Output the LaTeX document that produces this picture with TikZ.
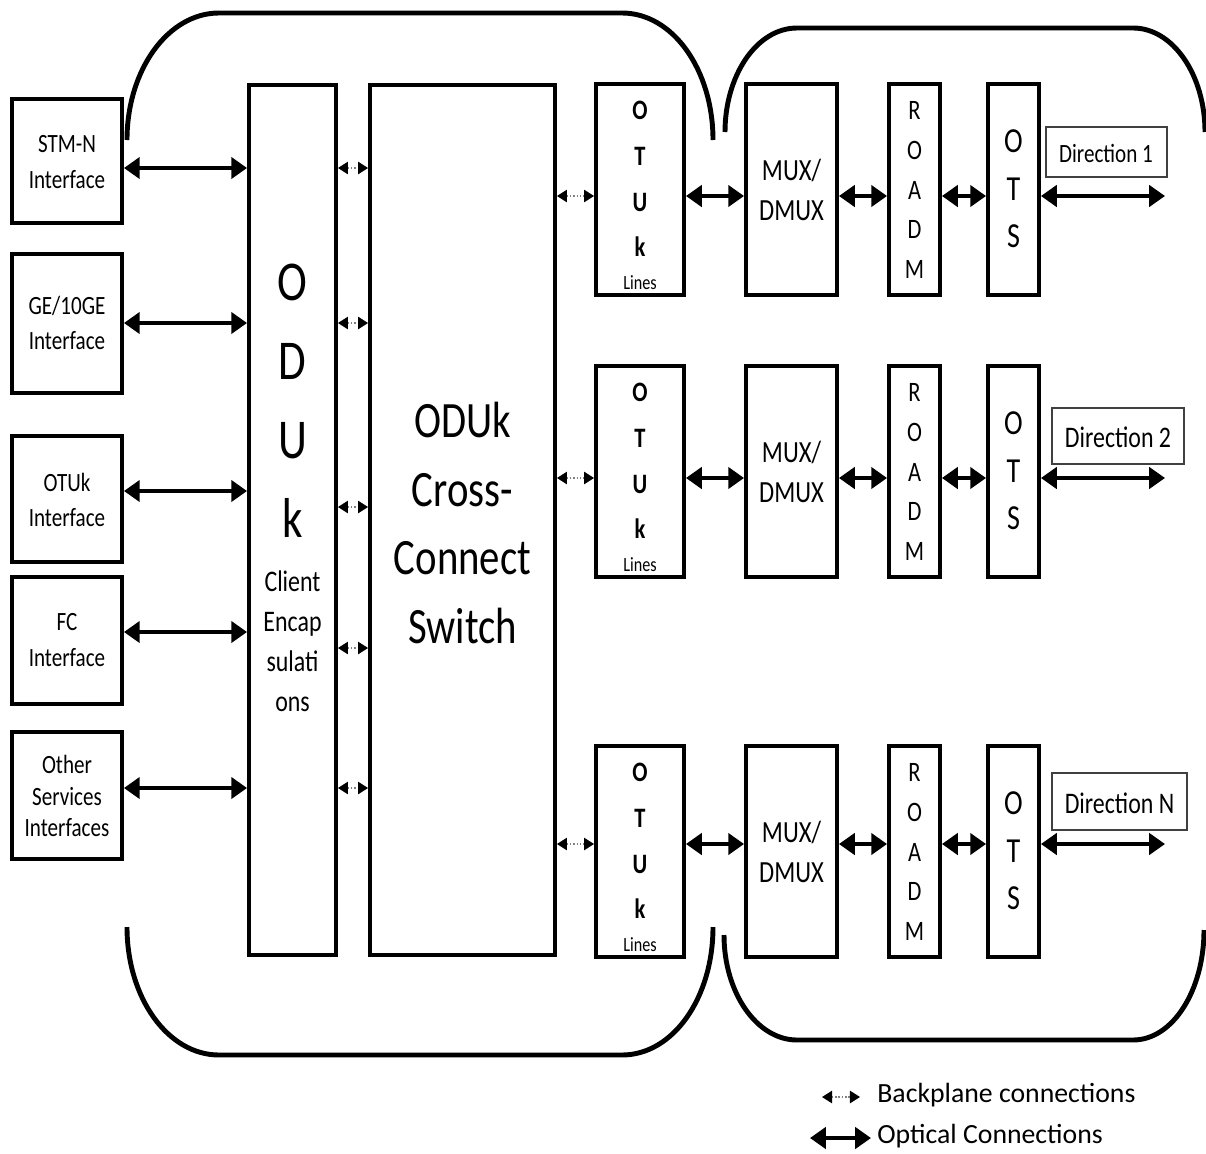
\documentclass[tikz,border=0pt]{standalone}
\usepackage{fontspec}
\setmainfont{Carlito}[FakeStretch=0.8]
\newfontfamily\legendfont{Carlito}
\usetikzlibrary{arrows.meta,fit}
\tikzset{
  box/.style={draw, line width=2.2pt, inner sep=0pt},
  lbl/.style={draw=black!75, line width=1.1pt, inner sep=0pt},
  txt/.style={inner sep=0pt, align=center},
  opt/.style={line width=2.8pt, arrows={Triangle[length=9pt,width=12pt]-Triangle[length=9pt,width=12pt]}},
  bp/.style={draw=black!50, line width=0.9pt, densely dotted, arrows={Triangle[length=5.7pt,width=7pt,color=black]-Triangle[length=5.7pt,width=7pt,color=black]}},
  brk/.style={line width=2.8pt},
}
\begin{document}
\begin{tikzpicture}[x=0.02cm,y=-0.02cm]
\useasboundingbox (0,0) rectangle (1206,1153);

% group brackets
\draw[brk] (127,140) .. controls (127,70) and (168,13) .. (219,13) -- (622,13)
  .. controls (673,13) and (713,70) .. (713,140);
\draw[brk] (725,132) .. controls (725,75) and (757,28) .. (797,28) -- (1133,28)
  .. controls (1173,28) and (1205,75) .. (1205,132);
\draw[brk] (127,927) .. controls (127,998) and (168,1055) .. (219,1055) -- (622,1055)
  .. controls (673,1055) and (713,998) .. (713,927);
\draw[brk] (724,935) .. controls (724,993) and (757,1040) .. (797,1040) -- (1133,1040)
  .. controls (1173,1040) and (1204,990) .. (1204,930);

% client interfaces
\node[box, fit={(12,99) (122,223)}] (if1) {};
\node[box, fit={(12,254) (122,393)}] (if2) {};
\node[box, fit={(12,436) (122,562)}] (if3) {};
\node[box, fit={(12,577) (122,704)}] (if4) {};
\node[box, fit={(12,732) (122,859)}] (if5) {};
\node[txt, font=\fontsize{15}{20.4}\selectfont] (ift1) at (67,162) {STM-N\\Interface};
\node[txt, font=\fontsize{15}{20.4}\selectfont] (ift2) at (67,323) {GE/10GE\\Interface};
\node[txt, font=\fontsize{15}{20.4}\selectfont] (ift3) at (67,500) {OTUk\\Interface};
\node[txt, font=\fontsize{15}{20.4}\selectfont] (ift4) at (67,640) {FC\\Interface};
\node[txt, font=\fontsize{15}{18}\selectfont] (ift5) at (67,796) {Other\\Services\\Interfaces};

% ODUk client encapsulations
\node[box, fit={(249,85) (336,955)}] (oduk) {};
\node[txt, font=\fontsize{32}{45}\selectfont] (odukt) at (292.5,401) {O\\D\\U\\k};
\node[txt, font=\fontsize{17}{22.7}\selectfont] (clientt) at (292.5,641) {Client\\Encap\\sulati\\ons};

% cross-connect switch
\node[box, fit={(370,85) (555,955)}] (xc) {};
\node[txt, font=\fontsize{29}{39}\selectfont] (xct) at (462.5,523) {ODUk\\Cross-\\Connect\\Switch};

% client side connections
\foreach \k/\ya/\yb in {1/168/168, 2/323/323, 3/491/507, 4/632/648, 5/788/788} {
  \coordinate (la\k) at (0,\ya);
  \coordinate (lb\k) at (0,\yb);
  \draw[opt] (if\k.east |- la\k) -- (oduk.west |- la\k);
  \draw[bp] (oduk.east |- lb\k) -- (xc.west |- lb\k);
}

% line side
\foreach \i/\t/\a in {1/84/196, 2/366/478, 3/746/844} {
  \node[box, fit={(596,\t) (684,\t+211)}] (otu\i) {};
  \node[txt, font=\bfseries\fontsize{16}{26}\selectfont] (otut\i) at (640,\t+95) {O\\T\\U\\k};
  \node[txt, anchor=base, font=\fontsize{11.5}{12}\selectfont] (lines\i) at (640,\t+205) {Lines};
  \node[box, fit={(746,\t) (837,\t+211)}] (mux\i) {};
  \node[txt, font=\fontsize{17.5}{22.7}\selectfont] (muxt\i) at (791.5,\t+106) {MUX/\\DMUX};
  \node[box, fit={(889,\t) (940,\t+211)}] (roadm\i) {};
  \node[txt, font=\fontsize{16}{22.7}\selectfont] (roadmt\i) at (914.5,\t+106) {R\\O\\A\\D\\M};
  \node[box, fit={(988,\t) (1039,\t+211)}] (ots\i) {};
  \node[txt, font=\fontsize{20}{27}\selectfont] (otst\i) at (1013.5,\t+105) {O\\T\\S};
  \coordinate (ar\i) at (0,\a);
  \coordinate (end\i) at (1165,\a);
  \draw[bp] (xc.east |- ar\i) -- (otu\i.west |- ar\i);
  \draw[opt] (otu\i.east |- ar\i) -- (mux\i.west |- ar\i);
  \draw[opt] (mux\i.east |- ar\i) -- (roadm\i.west |- ar\i);
  \draw[opt] (roadm\i.east |- ar\i) -- (ots\i.west |- ar\i);
  \draw[opt] (ots\i.east |- ar\i) -- (end\i);
}

% direction labels
\node[lbl, fit={(1046,127) (1167,177)}] (dir1) {};
\node[lbl, fit={(1052,408) (1184,464)}] (dir2) {};
\node[lbl, fit={(1052,773) (1187,830)}] (dir3) {};
\node[txt, font=\fontsize{15}{18}\selectfont] (dirt1) at (1106,153) {Direction 1};
\node[txt, font=\fontsize{17}{20}\selectfont] (dirt2) at (1118,437) {Direction 2};
\node[txt, font=\fontsize{17}{20}\selectfont] (dirt3) at (1119.5,803) {Direction N};

% legend
\coordinate (bpa) at (822,1097);
\coordinate (bpb) at (860,1097);
\draw[bp] (bpa) -- (bpb);
\node[inner sep=0pt, anchor=base west, font=\legendfont\fontsize{15.8}{18}\selectfont] (bptxt) at (877,1102) {Backplane connections};
\coordinate (opa) at (810,1138);
\coordinate (opb) at (871,1138);
\draw[opt] (opa) -- (opb);
\node[inner sep=0pt, anchor=base west, font=\legendfont\fontsize{15.8}{18}\selectfont] (optxt) at (877,1143) {Optical Connections};
\end{tikzpicture}
\end{document}
